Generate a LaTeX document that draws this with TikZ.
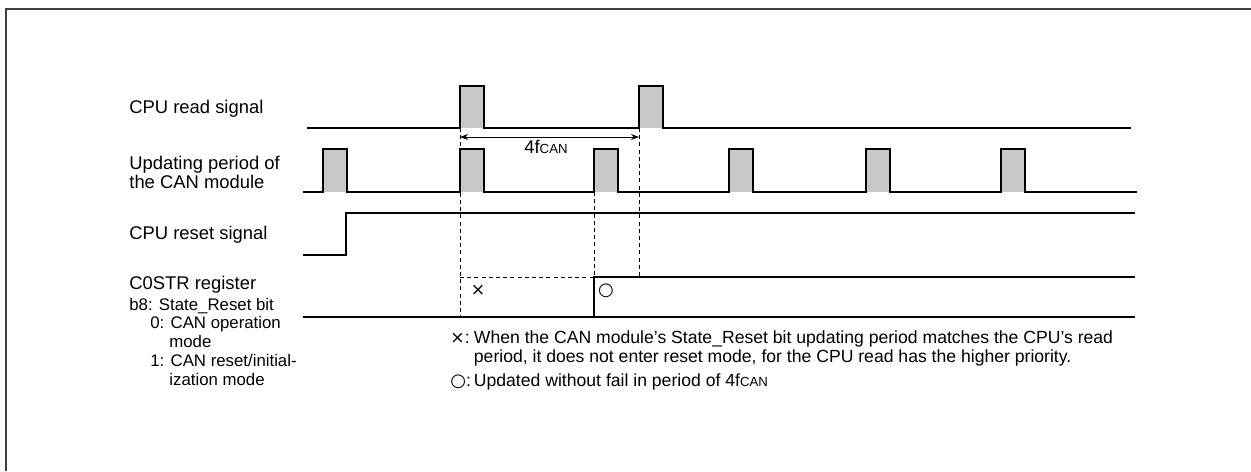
\documentclass[tikz,border=0pt]{standalone}
\usepackage{fontspec}
\setmainfont{Liberation Sans}
\newfontfamily\symfont{DejaVu Sans}
\usetikzlibrary{arrows.meta, positioning, calc}
\definecolor{pulsegray}{RGB}{200,200,200}
\newcommand{\fcan}{4f{\fontsize{6.6}{7}\selectfont CAN}}
\newcommand{\okmark}{{\symfont\fontsize{9}{9}\selectfont ○}}
\newcommand{\ngmark}{{\symfont\fontsize{8.6}{9}\selectfont ×}}

\begin{document}
\begin{tikzpicture}[
  x=0.5pt, y=-0.5pt,
  wave/.style={line width=0.9pt},
  guide/.style={line width=0.5pt, dash pattern=on 2pt off 1.6pt},
  lbl/.style={anchor=west, inner sep=0pt, align=left, font=\fontsize{9.2}{9.6}\selectfont},
  note/.style={anchor=west, inner sep=0pt, align=left, font=\fontsize{8.4}{9.4}\selectfont},
  dim/.style={{Stealth[length=4pt,width=3pt]}-{Stealth[length=4pt,width=3pt]}, line width=0.5pt}
]
\useasboundingbox (0,0) rectangle (1251,471);
\draw[line width=0.9pt, black!75] (6,471) -- (6,9) -- (1251,9);

% signal names
\node[lbl] (rdlbl) at (129,109) {CPU read signal};
\node[lbl] (uplbl) at (129,172.5) {Updating period of\\the CAN module};
\node[lbl] (rslbl) at (129,235) {CPU reset signal};
\node[lbl] (reglbl) at (129,285) {C0STR register};
\node[note] (bitlbl) at (129,341.6) {b8: State\_Reset bit\\
  \hspace*{10.5pt}0: CAN operation\\\hspace*{20pt}mode\\
  \hspace*{10.5pt}1: CAN reset/initial-\\\hspace*{20pt}ization mode};

% CPU read signal
\foreach \p in {460,639} \fill[pulsegray] (\p,128) rectangle (\p+24,86);
\draw[wave] (307,128) \foreach \p in {460,639} {
  -- (\p,128) -- (\p,86) -- (\p+24,86) -- (\p+24,128) } -- (1131,128);

% updating period of the CAN module
\foreach \p in {323,460,594,729,866,1001} \fill[pulsegray] (\p,192) rectangle (\p+24,149);
\draw[wave] (303,192) \foreach \p in {323,460,594,729,866,1001} {
  -- (\p,192) -- (\p,149) -- (\p+24,149) -- (\p+24,192) } -- (1137,192);

% CPU reset signal
\draw[wave] (303,255) -- (346,255) -- (346,213) -- (1135,213);

% C0STR register
\draw[wave] (303,317) -- (1135,317);
\draw[guide] (460,277) -- (594,277);
\draw[wave] (594,317) -- (594,277) -- (1135,277);

% guides
\draw[guide] (460,128) -- (460,317);
\draw[guide] (594,192) -- (594,277);
\draw[guide] (639,128) -- (639,277);

% period
\coordinate (a1) at (460,137);
\coordinate (a2) at (639,137);
\draw[dim] (a1) -- (a2);
\node[lbl, anchor=center] (fcanlbl) at (546,147) {\fcan};

\node[lbl, anchor=center] (xsym) at (478,290) {\ngmark};
\node[lbl, anchor=center] (osym) at (606,291) {\okmark};

% notes
\node[note, anchor=north west, font=\fontsize{8.8}{9.4}\selectfont] (notes) at (450,330) {%
  \begin{tabular}{@{}l@{\,}l@{}}
  \ngmark: & When the CAN module’s State\_Reset bit updating period matches the CPU’s read\\
     & period, it does not enter reset mode, for the CPU read has the higher priority.\\[2.5pt]
  \okmark: & Updated without fail in period of \fcan
  \end{tabular}};
\end{tikzpicture}
\end{document}
